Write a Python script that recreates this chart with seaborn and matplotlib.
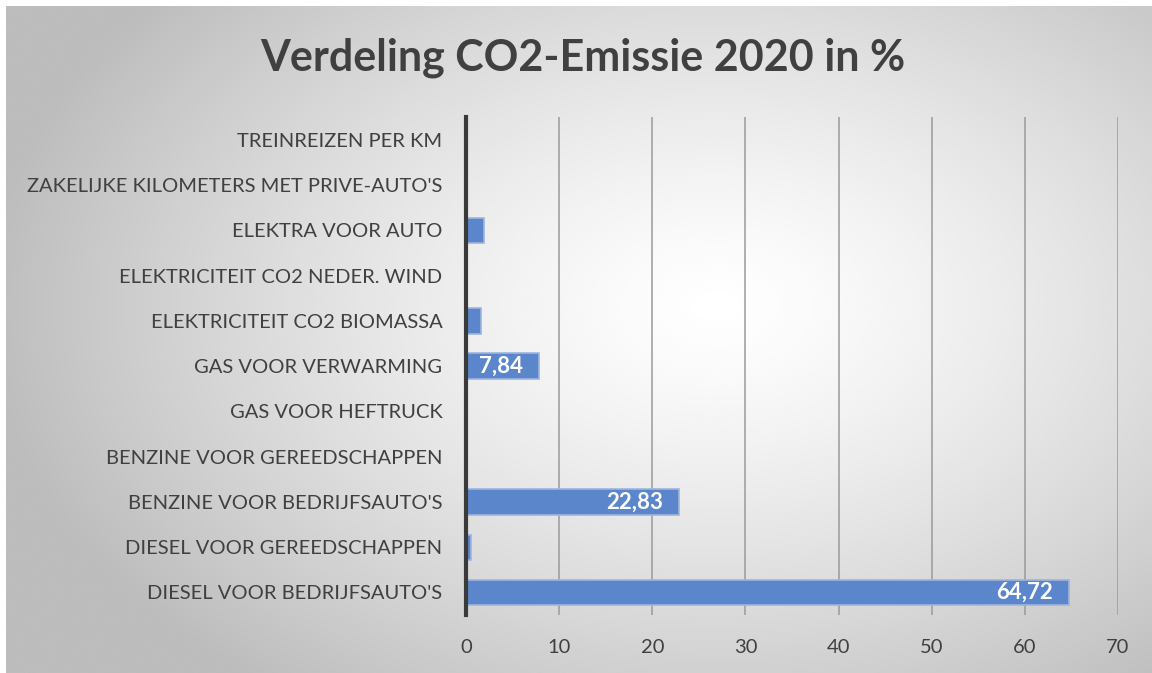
import numpy as np
import pandas as pd
import matplotlib
matplotlib.use("Agg")
import matplotlib.pyplot as plt
import seaborn as sns

# data
categories = ["TREINREIZEN PER KM",
              "ZAKELIJKE KILOMETERS MET PRIVE-AUTO'S",
              "ELEKTRA VOOR AUTO",
              "ELEKTRICITEIT CO2 NEDER. WIND",
              "ELEKTRICITEIT CO2 BIOMASSA",
              "GAS VOOR VERWARMING",
              "GAS VOOR HEFTRUCK",
              "BENZINE VOOR GEREEDSCHAPPEN",
              "BENZINE VOOR BEDRIJFSAUTO'S",
              "DIESEL VOOR GEREEDSCHAPPEN",
              "DIESEL VOOR BEDRIJFSAUTO'S"]
values = [0, 0, 1.93, 0, 1.62, 7.84, 0, 0, 22.83, 0.55, 64.72]
x_ticks = [0, 10, 20, 30, 40, 50, 60, 70]

df = pd.DataFrame({"cat": categories, "val": values})

sns.set_style("white")
plt.rcParams['font.family'] = ['Lato', 'DejaVu Sans']
txt = "#404040"

fig = plt.figure(figsize=(11.52, 6.73), dpi=100)
fig.patch.set_facecolor("white")

# radial gradient background of the chart area
bg = fig.add_axes([0.005, 0, 0.995, 0.991])
yy, xx = np.mgrid[0:1:300j, 0:1:500j]
r = np.sqrt(((xx - 0.62) / 0.75) ** 2 + ((yy - 0.45) / 0.85) ** 2)
shade = np.clip(1 - 0.32 * r ** 1.3, 0.74, 1)
bg.imshow(shade, cmap="gray", vmin=0, vmax=1, aspect="auto",
          extent=[0, 1, 0, 1], interpolation="bicubic")
bg.set_axis_off()

ax = fig.add_axes([0.4045, 0.086, 0.566, 0.740])
ax.set_facecolor("none")
sns.barplot(data=df, y="cat", x="val", orient="h", color="#5B86CC",
            width=0.56, edgecolor="#9DB5E0", linewidth=1.2, ax=ax,
            saturation=1)

ax.set_xlim(0, 70)
ax.set_xticks(x_ticks)
ax.set_xlabel("")
ax.set_ylabel("")
ax.grid(axis="x", color="#9a9a9a", linewidth=1.1)
ax.set_axisbelow(True)
for s in ["top", "right", "bottom"]:
    ax.spines[s].set_visible(False)
ax.spines["left"].set_color("#3a3a3a")
ax.spines["left"].set_linewidth(3)
ax.spines["left"].set_zorder(5)
ax.tick_params(axis="y", length=0, pad=17, labelsize=14.5, labelcolor=txt)
ax.tick_params(axis="x", length=0, pad=17, labelsize=14.5, labelcolor=txt)

# value labels inside the bar end, clipped to the bar
for bar, v in zip(ax.patches, values):
    if v >= 1.9:
        t = ax.text(bar.get_width() - 1.7, bar.get_y() + bar.get_height() / 2,
                    f"{v:.2f}".replace(".", ","), ha="right", va="center",
                    color="white", fontsize=16, fontweight="bold",
                    clip_on=True)
        t.set_clip_path(bar)

fig.text(0.506, 0.914, "Verdeling CO2-Emissie 2020 in %", ha="center",
         va="center", fontsize=31, fontweight="bold", color=txt)

fig.savefig("out.png", dpi=100)
